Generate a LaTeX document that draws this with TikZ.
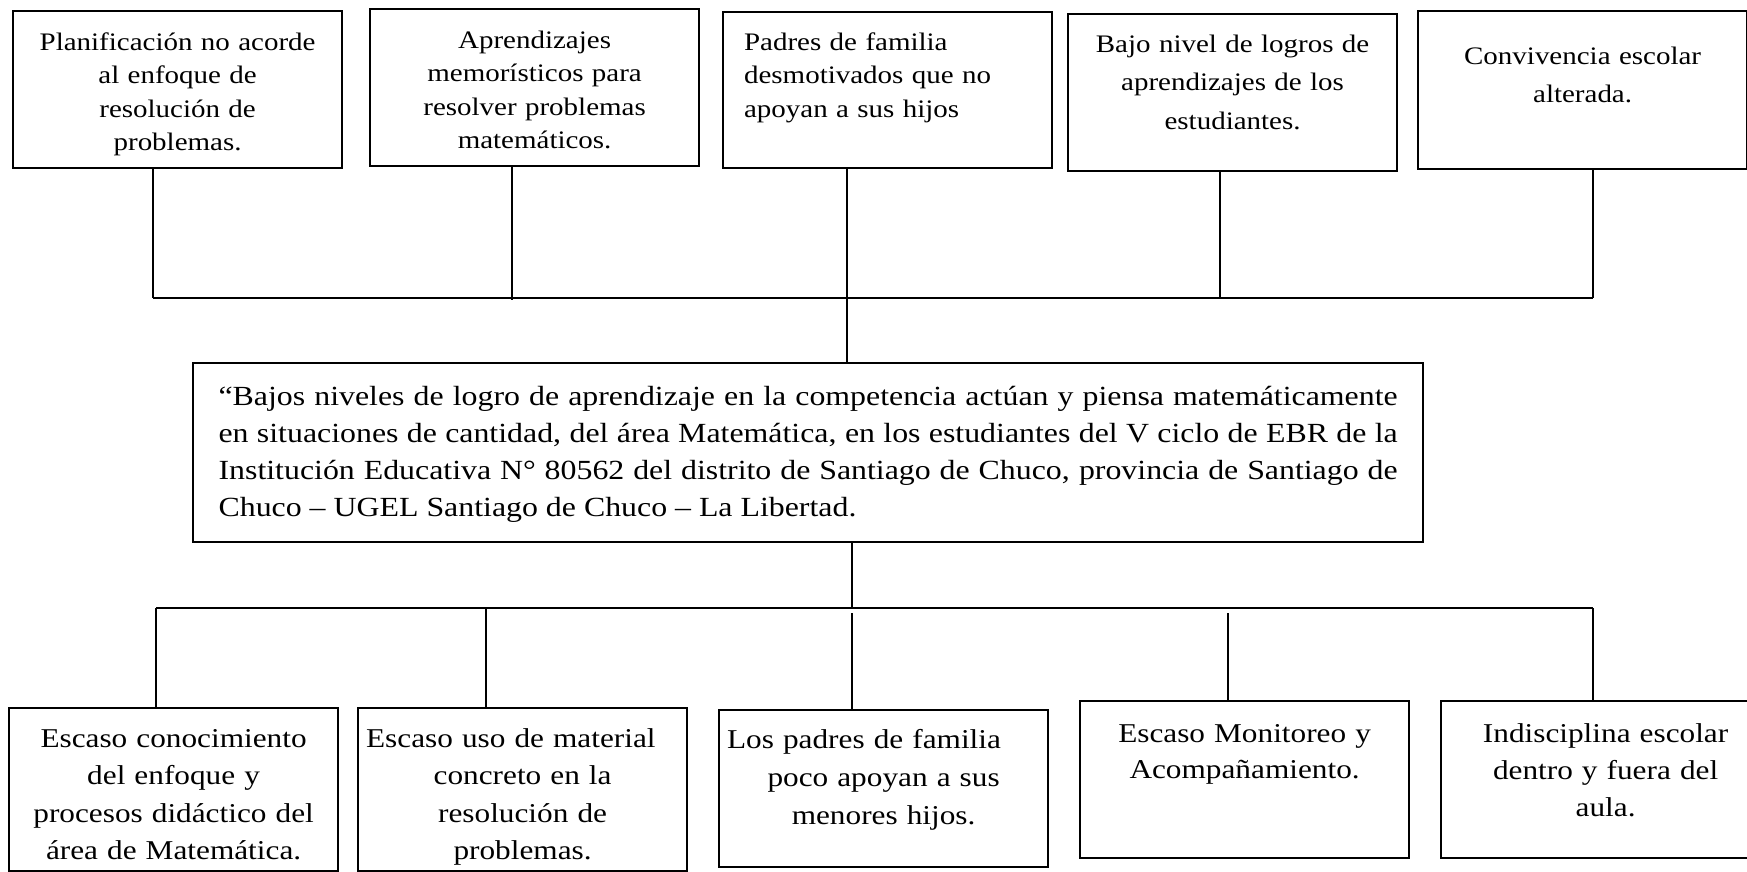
\documentclass[tikz,border=0pt]{standalone}
\usepackage{fontspec}
\setmainfont{Liberation Serif}[FakeStretch=1.15]
\tikzset{
  caja/.style={draw, line width=1.1pt, anchor=north west, inner ysep=0pt, inner xsep=4pt, text width=156.5pt, align=center},
  efecto/.style={caja, font=\fontsize{12.6}{16.75}\selectfont},
  causa/.style={caja, font=\fontsize{13.6}{18.75}\selectfont},
  linea/.style={line width=0.65pt},
}
\begin{document}
\begin{tikzpicture}[x=0.5pt, y=-0.5pt]
    \useasboundingbox (0,0) rectangle (1747,872);
    % efectos
    \node[efecto, text height=19.5pt, text depth=59pt] (e1) at (12,10) {Planificación no acorde\\ al enfoque de\\ resolución de\\ problemas.};
    \node[efecto, text height=19.5pt, text depth=59pt] (e2) at (369,8) {Aprendizajes\\ memorísticos para\\ resolver problemas\\ matemáticos.};
    \node[efecto, align=left, inner xsep=10.5pt, text width=143.5pt, text height=19pt, text depth=59pt] (e3) at (722,11) {Padres de familia\\ desmotivados que no\\ apoyan a sus hijos};
    \node[efecto, font=\fontsize{12.6}{19.25}\selectfont, text height=19pt, text depth=59.5pt] (e4) at (1067,13) {Bajo nivel de logros de\\ aprendizajes de los\\ estudiantes.};
    \node[efecto, font=\fontsize{12.6}{19}\selectfont, text height=26.5pt, text depth=52.5pt] (e5) at (1417,10) {Convivencia escolar\\ alterada.};
    % problema central
    \node[caja, align=justify, inner xsep=12.75pt, text width=589.5pt, font=\fontsize{13.85}{18.5}\selectfont, text height=21pt, text depth=68.5pt] (prob) at (192,362) {“Bajos niveles de logro de aprendizaje en la competencia actúan y piensa matemáticamente\linebreak en situaciones de cantidad, del área Matemática, en los estudiantes del V ciclo de EBR de la\linebreak Institución Educativa N° 80562 del distrito de Santiago de Chuco, provincia de Santiago de\linebreak Chuco – UGEL Santiago de Chuco – La Libertad.};
    % causas
    \node[causa, text height=19.5pt, text depth=62pt] (c1) at (8,707) {Escaso conocimiento\\ del enfoque y\\ procesos didáctico del\\ área de Matemática.};
    \node[causa, text height=19.5pt, text depth=62pt] (c2) at (357,707) {\makebox[\linewidth][l]{Escaso uso de material}\\ concreto en la\\ resolución de\\ problemas.};
    \node[causa, font=\fontsize{13.6}{19}\selectfont, text height=19pt, text depth=59.5pt] (c3) at (718,709) {\makebox[\linewidth][l]{Los padres de familia}\\ poco apoyan a sus\\ menores hijos.};
    \node[causa, font=\fontsize{13.6}{18}\selectfont, text height=20.5pt, text depth=58pt] (c4) at (1079,700) {Escaso Monitoreo y\\ Acompañamiento.};
    \node[causa, font=\fontsize{13.6}{18.5}\selectfont, text height=20.5pt, text depth=58pt] (c5) at (1440,700) {Indisciplina escolar\\ dentro y fuera del\\ aula.};
    % barra superior
    \coordinate (s1) at (153,298);
    \coordinate (s2) at (512,300);
    \coordinate (s3) at (847,298);
    \coordinate (s4) at (1220,297);
    \coordinate (s5) at (1593,298);
    \draw[linea] (s1) -- (s5);
    \foreach \i in {1,2,4,5} {
        \draw[linea] (e\i.south -| s\i) -- (s\i);
      }
    \draw[linea] (e3.south -| s3) -- (prob.north -| s3);
    % barra inferior
    \coordinate (i1) at (156,608);
    \coordinate (i2) at (486,608);
    \coordinate (i3) at (852,613);
    \coordinate (i4) at (1228,613);
    \coordinate (i5) at (1593,608);
    \draw[linea] (i1) -- (i5);
    \draw[linea] (prob.south -| i3) -- (i3 |- i1);
    \foreach \i in {1,...,5} {
        \draw[linea] (i\i) -- (c\i.north -| i\i);
      }
\end{tikzpicture}
\end{document}
